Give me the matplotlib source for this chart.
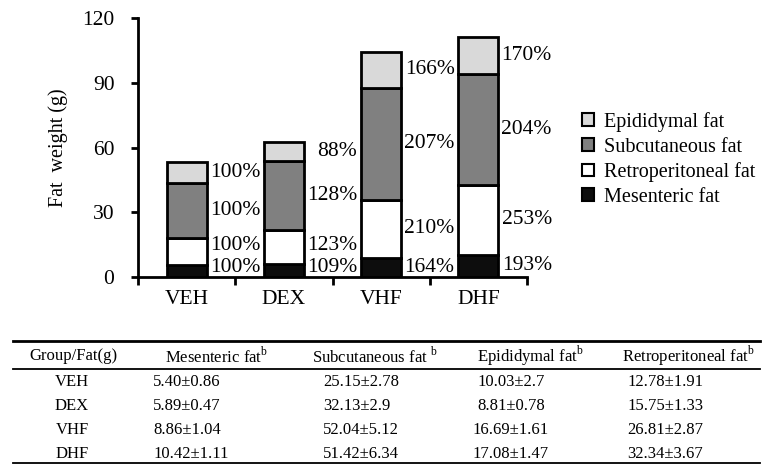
import matplotlib
matplotlib.use("Agg")
import matplotlib.pyplot as plt
import numpy as np

plt.rcParams['font.family'] = ['Liberation Serif', 'DejaVu Serif']
plt.rcParams['mathtext.fontset'] = 'custom'
plt.rcParams['mathtext.rm'] = 'Liberation Serif'

# data (g), mean and SD per group
groups = ['VEH', 'DEX', 'VHF', 'DHF']
mes_mean = [5.40, 5.89, 8.86, 10.42]
mes_sd = [0.86, 0.47, 1.04, 1.11]
sub_mean = [25.15, 32.13, 52.04, 51.42]
sub_sd = [2.78, 2.9, 5.12, 6.34]
epi_mean = [10.03, 8.81, 16.69, 17.08]
epi_sd = [2.7, 0.78, 1.61, 1.47]
ret_mean = [12.78, 15.75, 26.81, 32.34]
ret_sd = [1.91, 1.33, 2.87, 3.67]

# percent of VEH shown next to each segment
mes_pct = ['100%', '109%', '164%', '193%']
ret_pct = ['100%', '123%', '210%', '253%']
sub_pct = ['100%', '128%', '207%', '204%']
epi_pct = ['100%', '88%', '166%', '170%']

W, H = 765, 465
fig = plt.figure(figsize=(W / 100, H / 100), dpi=100)
ax = fig.add_axes([138 / W, 1 - 277 / H, 389 / W, 259 / H])

x = np.arange(len(groups)) + 0.5
bw = 0.41
layers = [
    ('Mesenteric fat', mes_mean, mes_pct, '#0d0d0d'),
    ('Retroperitoneal fat', ret_mean, ret_pct, '#ffffff'),
    ('Subcutaneous fat', sub_mean, sub_pct, '#808080'),
    ('Epididymal fat', epi_mean, epi_pct, '#d9d9d9'),
]
bottom = np.zeros(len(groups))
last_lab = np.full(len(groups), -5.5)  # keeps labels from touching
handles = []
for name, vals, pcts, col in layers:
    vals = np.array(vals)
    b = ax.bar(x, vals, bw, bottom=bottom, color=col, edgecolor='black',
               linewidth=2, label=name, zorder=3)
    handles.append(b)
    for i in range(len(groups)):
        yc = max(bottom[i] + vals[i] / 2, last_lab[i] + 10)
        last_lab[i] = yc
        ax.text(x[i] + bw / 2 + 0.55, yc, pcts[i], ha='right', va='center',
                fontsize=15.5)
    bottom = bottom + vals

ax.set_xlim(0, 4)
ax.set_ylim(0, 120)
ax.set_yticks([0, 30, 60, 90, 120])
ax.set_xticks([0, 1, 2, 3, 4])
ax.set_xticklabels([])
ax.set_xticks(x, minor=True)
ax.set_xticklabels(groups, minor=True)
ax.tick_params(axis='x', which='major', direction='out', length=6, width=2)
ax.tick_params(axis='x', which='minor', length=0, pad=9, labelsize=15.5)
ax.tick_params(axis='y', direction='out', length=5, width=2, pad=12,
               labelsize=15.5)
for s in ['top', 'right']:
    ax.spines[s].set_visible(False)
for s in ['left', 'bottom']:
    ax.spines[s].set_linewidth(2)
ax.set_ylabel('Fat  weight (g)', fontsize=14.5)
ax.yaxis.set_label_coords(-0.18, 0.5)

leg = fig.legend(handles[::-1], [h.get_label() for h in handles[::-1]],
                 loc='upper left', bbox_to_anchor=(582 / W, 1 - 112 / H),
                 frameon=False, fontsize=14.5, handlelength=0.6,
                 handleheight=0.6, handletextpad=0.5, labelspacing=0.28,
                 borderpad=0, borderaxespad=0)
for p in leg.get_patches():
    p.set_linewidth(1.5)

# table below the chart, laid out in pixel coordinates
tb = fig.add_axes([0, 0, 1, 1])
tb.set_xlim(0, W)
tb.set_ylim(H, 0)
tb.axis('off')
tb.plot([13, 760], [341, 341], color='black', lw=2)
tb.plot([13, 760], [369, 369], color='black', lw=1.3)
tb.plot([13, 760], [463, 463], color='black', lw=1.3)

fs = 12
hy = 356
tb.text(73, hy, 'Group/Fat(g)', ha='center', va='center', fontsize=fs)
tb.text(165, hy, 'Mesenteric fat$^{\\mathrm{b}}$', ha='left', va='center', fontsize=fs)
tb.text(312, hy, 'Subcutaneous fat $^{\\mathrm{b}}$', ha='left', va='center', fontsize=fs)
tb.text(477, hy, 'Epididymal fat$^{\\mathrm{b}}$', ha='left', va='center', fontsize=fs)
tb.text(622, hy, 'Retroperitoneal fat$^{\\mathrm{b}}$', ha='left', va='center', fontsize=fs)

row_y = [382, 406, 430, 454]
for i, g in enumerate(groups):
    y = row_y[i]
    tb.text(72, y, g, ha='center', va='center', fontsize=fs)
    tb.text(153, y, f'{mes_mean[i]:.2f}±{mes_sd[i]:g}', ha='left', va='center', fontsize=fs)
    tb.text(323, y, f'{sub_mean[i]:.2f}±{sub_sd[i]:g}', ha='left', va='center', fontsize=fs)
    tb.text(511, y, f'{epi_mean[i]:.2f}±{epi_sd[i]:g}', ha='center', va='center', fontsize=fs)
    tb.text(627, y, f'{ret_mean[i]:.2f}±{ret_sd[i]:g}', ha='left', va='center', fontsize=fs)

fig.savefig('out.png', dpi=100)
